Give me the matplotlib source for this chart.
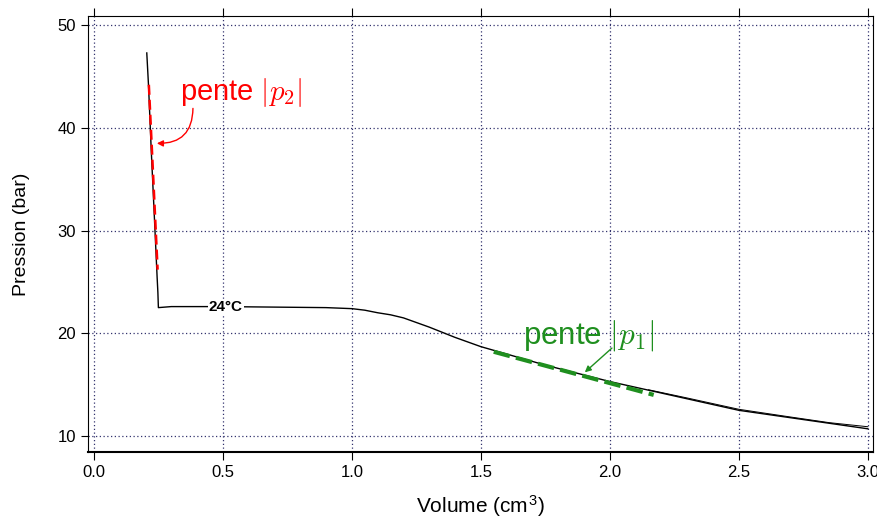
import matplotlib
matplotlib.use("Agg")
import matplotlib.pyplot as plt

plt.rcParams["font.family"] = ["Liberation Sans", "DejaVu Sans"]
plt.rcParams["mathtext.fontset"] = "cm"

# isotherme a 24 degC
volume = [0.205, 0.212, 0.222, 0.235, 0.245, 0.248, 0.25, 0.3, 0.5, 0.7,
          0.9, 1.0, 1.05, 1.1, 1.15, 1.2, 1.25, 1.3, 1.4, 1.5, 1.75, 2.0,
          2.25, 2.5, 2.75, 3.0]
pression = [47.3, 44.0, 38.0, 31.0, 25.5, 24.0, 22.5, 22.6, 22.6, 22.55,
            22.5, 22.4, 22.25, 22.0, 21.8, 21.5, 21.05, 20.6, 19.6, 18.7,
            16.9, 15.3, 13.9, 12.5, 11.6, 10.7]

# trace retour (partie droite)
volume_ret = [2.15, 2.3, 2.5, 2.7, 2.85, 3.0]
pression_ret = [14.5, 13.7, 12.6, 11.85, 11.3, 10.9]

# pentes
pente2_v = [0.213, 0.247]
pente2_p = [44.2, 26.2]
pente1_v = [1.55, 2.17]
pente1_p = [18.2, 14.0]

fig = plt.figure(figsize=(8.77, 5.24), dpi=100)
ax = fig.add_axes([0.1003, 0.1374, 0.8951, 0.8321])

ax.plot(volume, pression, color="black", lw=1.0)
ax.plot(volume_ret, pression_ret, color="black", lw=0.7)
ax.plot(pente2_v, pente2_p, color="red", lw=1.8, ls=(0, (4, 2)))
ax.plot(pente1_v, pente1_p, color="#1f8f1f", lw=3, ls=(0, (4, 1.5)))

ax.text(0.512, 22.55, "24°C", fontsize=11, fontweight="bold", ha="center",
        va="center", bbox=dict(facecolor="white", edgecolor="none", pad=0.5))

ax.text(0.333, 43.4, r"pente $|p_2|$", fontsize=21, color="red",
        ha="left", va="center")
ax.annotate("", xy=(0.244, 38.5), xytext=(0.384, 41.9),
            arrowprops=dict(arrowstyle="-|>", color="red", lw=1,
                            mutation_scale=9, shrinkA=0, shrinkB=0,
                            connectionstyle="arc3,rad=-0.5"))

ax.text(1.663, 19.83, r"pente $|p_1|$", fontsize=22.5, color="#1f8f1f",
        ha="left", va="center")
ax.annotate("", xy=(1.903, 16.2), xytext=(2.008, 18.56),
            arrowprops=dict(arrowstyle="-|>", color="#1f8f1f", lw=1,
                            mutation_scale=9, shrinkA=0, shrinkB=0))

ax.set_xlim(-0.023, 3.02)
ax.set_ylim(8.44, 50.9)
ax.set_xticks([0.0, 0.5, 1.0, 1.5, 2.0, 2.5, 3.0])
ax.set_xticklabels(["0.0", "0.5", "1.0", "1.5", "2.0", "2.5", "3.0"])
ax.set_yticks([10, 20, 30, 40, 50])
ax.grid(True, color="#33336e", ls=(0, (1, 2)), lw=0.9)
ax.tick_params(axis="x", length=6, labelsize=12, top=True, direction="out")
ax.tick_params(axis="y", length=5, labelsize=12)
ax.spines["bottom"].set_linewidth(1.5)

ax.set_xlabel(r"Volume (cm$^\mathregular{3}$)", fontsize=15, labelpad=10)
ax.set_ylabel("Pression (bar)", fontsize=14, labelpad=20)

fig.savefig("out.png", dpi=100)
